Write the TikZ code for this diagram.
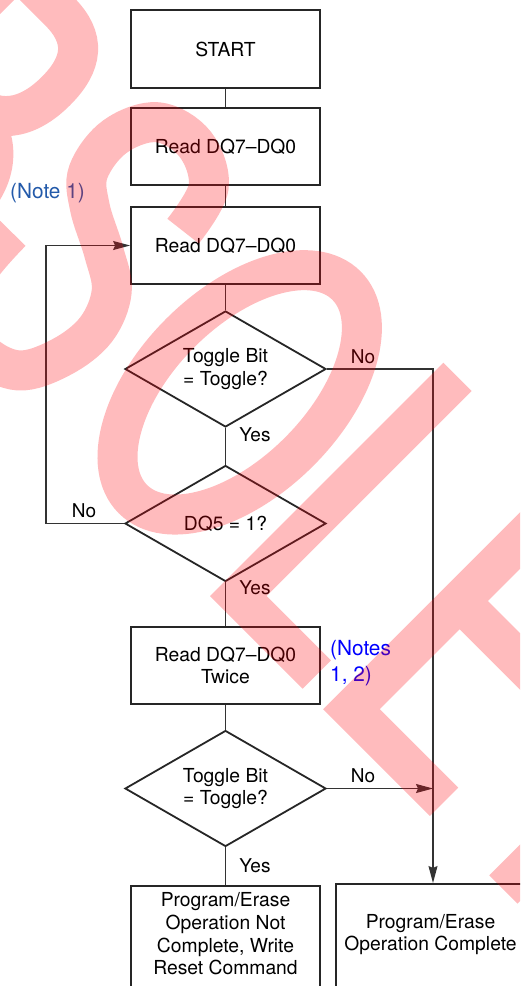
\documentclass[tikz,border=0pt]{standalone}
\usepackage{fontspec}
\setmainfont{TeX Gyre Heros}
\usetikzlibrary{shapes.geometric,arrows.meta}
\definecolor{wm}{RGB}{255,0,11}
\definecolor{notea}{RGB}{35,90,170}
\definecolor{noteb}{RGB}{0,0,255}
\newcommand{\mainfs}{\fontsize{19.3pt}{22.7pt}\selectfont}
\newcommand{\lblfs}{\fontsize{19pt}{22pt}\selectfont}
\newcommand{\notefs}{\fontsize{20.8pt}{26pt}\selectfont}
\begin{document}
\begin{tikzpicture}[x=1pt,y=-1pt,
  box/.style={draw=black!85, line width=1.8pt, minimum width=189pt, minimum height=77pt, inner sep=0pt, align=center, font=\mainfs},
  dia/.style={draw=black!85, line width=1.8pt, diamond, aspect=1.73, minimum width=201pt, minimum height=116pt, inner sep=0pt, align=center, font=\mainfs},
  conn/.style={draw=black!80, line width=1.1pt},
  arr/.style={conn, -{Stealth[length=17pt,width=9pt,inset=2pt]}},
  lbl/.style={font=\lblfs, inner sep=0pt},
  txt/.style={font=\mainfs, align=center, inner sep=0pt}
]
\useasboundingbox (0,0) rectangle (520,986);
\clip (0,0) rectangle (520,986);
\fill[white] (0,0) rectangle (520,986);

% boxes and decisions
\node[box, minimum height=78pt] (s) at (225.5,49) {\raisebox{-3pt}{START}};
\node[box] (r1) at (225.5,146.5) {Read DQ7–DQ0};
\node[box] (r2) at (225.5,245.5) {Read DQ7–DQ0};
\node[dia] (d1) at (225.5,369) {Toggle Bit\\= Toggle?};
\node[dia] (d2) at (225.5,523.5) {DQ5 = 1?};
\node[box] (r3) at (225.5,665.5) {Read DQ7–DQ0\\Twice};
\node[dia] (d3) at (225.5,788.5) {Toggle Bit\\= Toggle?};
\node[box, minimum height=140pt, anchor=north] (b4) at (225.5,885) {};
\node[txt] (b4t) at (225.5,934) {Program/Erase\\Operation Not\\Complete, Write\\Reset Command};
\node[box, minimum height=140pt, anchor=north] (b5) at (430.5,883) {};
\node[txt] (b5t) at (430.5,934.5) {Program/Erase\\Operation Complete};

% connectors
\draw[conn] (s) -- (r1);
\draw[conn] (r1) -- (r2);
\draw[conn] (r2) -- (d1);
\draw[conn] (d1) -- (d2);
\draw[conn] (d2) -- (r3);
\draw[conn] (r3) -- (d3);
\draw[conn] (d3) -- (b4);
\coordinate (j1) at (433,369);
\coordinate (j2) at (433,788.5);
\draw[arr] (d1.east) -- (j1) -- (j1 |- b5.north);
\draw[arr] (d3.east) -- (j2);
\coordinate (l1) at (46,523.5);
\coordinate (l2) at (46,245.5);
\draw[arr] (d2.west) -- (l1) -- (l2) -- (r2.west);

% labels
\node[lbl] (n1) at (363,357) {No};
\node[lbl] (y1) at (255,435) {Yes};
\node[lbl] (n2) at (84,511) {No};
\node[lbl] (y2) at (255,588) {Yes};
\node[lbl] (n3) at (363,776) {No};
\node[lbl] (y3) at (255,866) {Yes};
\node[font=\notefs, text=notea, anchor=west, inner sep=0pt] (nt1) at (10,193) {(Note 1)};
\node[font=\notefs, text=noteb, anchor=west, align=left, inner sep=0pt] (nt2) at (330,663) {(Notes\\1, 2)};

% watermark
\begin{scope}[shift={(210pt,-596pt)}, rotate=-45, x=1pt, y=1pt]
\draw[wm, draw opacity=0.267, line width=40pt, line join=miter, line cap=butt]
  (20,330) -- (20,20) -- (131,20)
  (311,310) -- (180,310) -- (180,20) -- (311,20)
  (180,173) -- (300,173)
  (415,0) -- (415,310)
  (331,310) -- (499,310)
  (-123,165) ellipse [x radius=84, y radius=151]
  plot[smooth, tension=0.6] coordinates {(-277,239) (-290,288) (-330,309) (-372,298) (-392,258) (-386,214) (-360,190) (-318,168) (-285,146) (-269,108) (-274,64) (-295,24) (-335,11) (-375,26) (-394,66) (-398,117)}
  (-580,20) -- (-580,307) -- (-520,307) .. controls (-482,307) and (-466,287) .. (-466,248) .. controls (-466,208) and (-484,180) .. (-525,180) -- (-580,180)
  (-525,180) .. controls (-472,180) and (-445,150) .. (-445,100) .. controls (-445,48) and (-475,20) .. (-530,20) -- (-580,20);
\end{scope}
\end{tikzpicture}
\end{document}
